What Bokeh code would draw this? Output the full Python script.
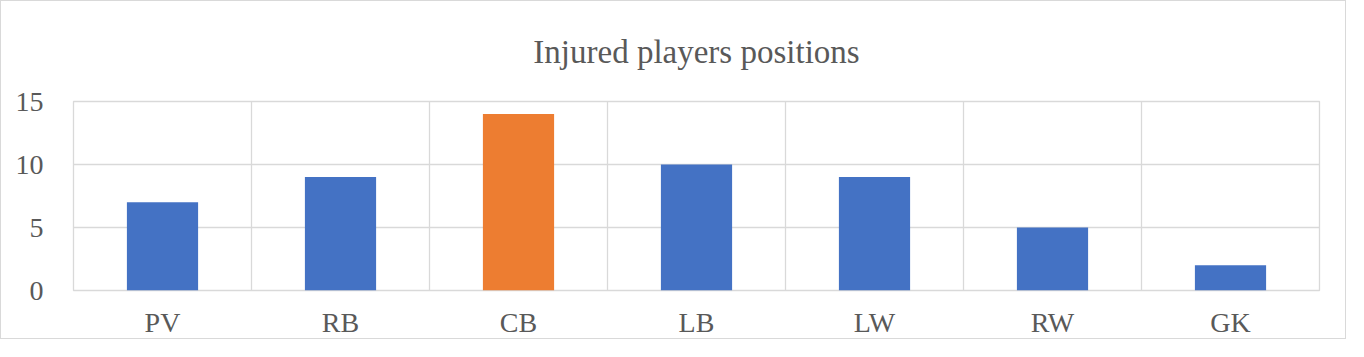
from bokeh.plotting import figure
from bokeh.models import Range1d, FixedTicker
from bokeh.embed import file_html
from bokeh.resources import INLINE

categories = ["PV", "RB", "CB", "LB", "LW", "RW", "GK"]
values = [7, 9, 14, 10, 9, 5, 2]
y_ticks = [0, 5, 10, 15]
title_text = "Injured players positions"

BLUE = "#4472C4"
ORANGE = "#ED7D31"
GRID = "#d9d9d9"
TEXT = "#595959"
FONT = "Liberation Serif"

n = len(categories)
centers = [i + 0.5 for i in range(n)]
colors = [ORANGE if v == max(values) else BLUE for v in values]

p = figure(width=1346, height=339, output_backend="svg", toolbar_location=None,
           x_range=Range1d(0, n), y_range=Range1d(y_ticks[0], y_ticks[-1]),
           min_border_left=72, min_border_right=28, min_border_top=100, min_border_bottom=50,
           title=title_text)
p.styles = {"border": "1px solid #d9d9d9"}
p.outline_line_color = GRID
p.outline_line_width = 1.3

p.title.align = "center"
p.title.vertical_align = "top"
p.title.offset = -22
p.title.text_font = FONT
p.title.text_font_size = "33px"
p.title.text_font_style = "normal"
p.title.text_color = TEXT
p.title.standoff = 60

p.vbar(x=centers, top=values, width=0.4, bottom=0, fill_color=colors, line_color=None)

p.xaxis.ticker = FixedTicker(ticks=centers)
p.xaxis.major_label_overrides = {c: lab for c, lab in zip(centers, categories)}
p.yaxis.ticker = FixedTicker(ticks=y_ticks)

for ax in (p.xaxis[0], p.yaxis[0]):
    ax.axis_line_color = None
    ax.major_tick_line_color = None
    ax.minor_tick_line_color = None
    ax.major_label_text_font = FONT
    ax.major_label_text_font_size = "28px"
    ax.major_label_text_color = TEXT
p.xaxis.major_label_standoff = 10
p.yaxis.major_label_standoff = 24

p.xgrid.ticker = FixedTicker(ticks=list(range(n + 1)))
p.ygrid.ticker = FixedTicker(ticks=y_ticks)
for g in (p.xgrid[0], p.ygrid[0]):
    g.grid_line_color = GRID
    g.grid_line_width = 1.3

open("out.html", "w").write(file_html(p, INLINE))
